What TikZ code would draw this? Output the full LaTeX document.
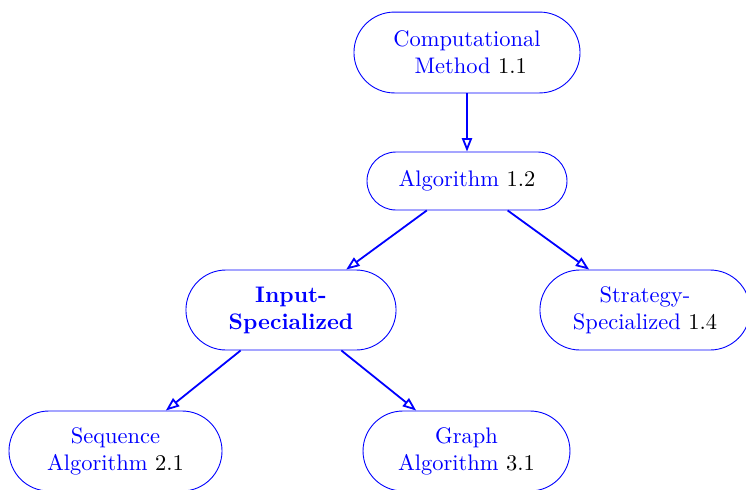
\documentclass[tikz,border=0pt]{standalone}
\usepackage{amssymb, amsmath}
\usepackage{color}
\usepackage{tikz}
\usetikzlibrary{arrows.meta}
\definecolor{line}{RGB}{0, 0, 255}

\begin{document}
\begin{tikzpicture}[x=0.445pt, y=-0.445pt,
    box/.style={draw=line, text=line, align=center, inner sep=0pt,
        minimum width=93.5pt, minimum height=35.6pt, rounded corners=17.8pt},
    link/.style={draw=line, thick, -{Triangle[open, length=6pt, width=4.5pt]}}]

    \useasboundingbox (0, 0) rectangle (746, 489);

    \node[box, minimum width=100.6pt, minimum height=36pt, rounded corners=18pt]
        (method) at (467, 52.5) {Computational\\ \ Method {\color{black}1.1}};
    \node[box, minimum width=89pt, minimum height=25.8pt, rounded corners=12.9pt]
        (algo) at (467, 181) {Algorithm {\color{black}1.2}};
    \node[box] (input) at (291, 310) {\textbf{Input-}\\ \textbf{Specialized}};
    \node[box] (strategy) at (645, 310) {Strategy-\\ Specialized {\color{black}1.4}};
    \node[box, minimum width=94.8pt] (sequence) at (115.5, 451) {Sequence\\ Algorithm {\color{black}2.1}};
    \node[box, minimum width=92.1pt] (graph) at (466.5, 451) {Graph\\ Algorithm {\color{black}3.1}};

    \draw[link] (method) -- (algo);
    \draw[link] (algo) -- (input);
    \draw[link] (algo) -- (strategy);
    \draw[link] (input) -- (sequence);
    \draw[link] (input) -- (graph);

\end{tikzpicture}
\end{document}
